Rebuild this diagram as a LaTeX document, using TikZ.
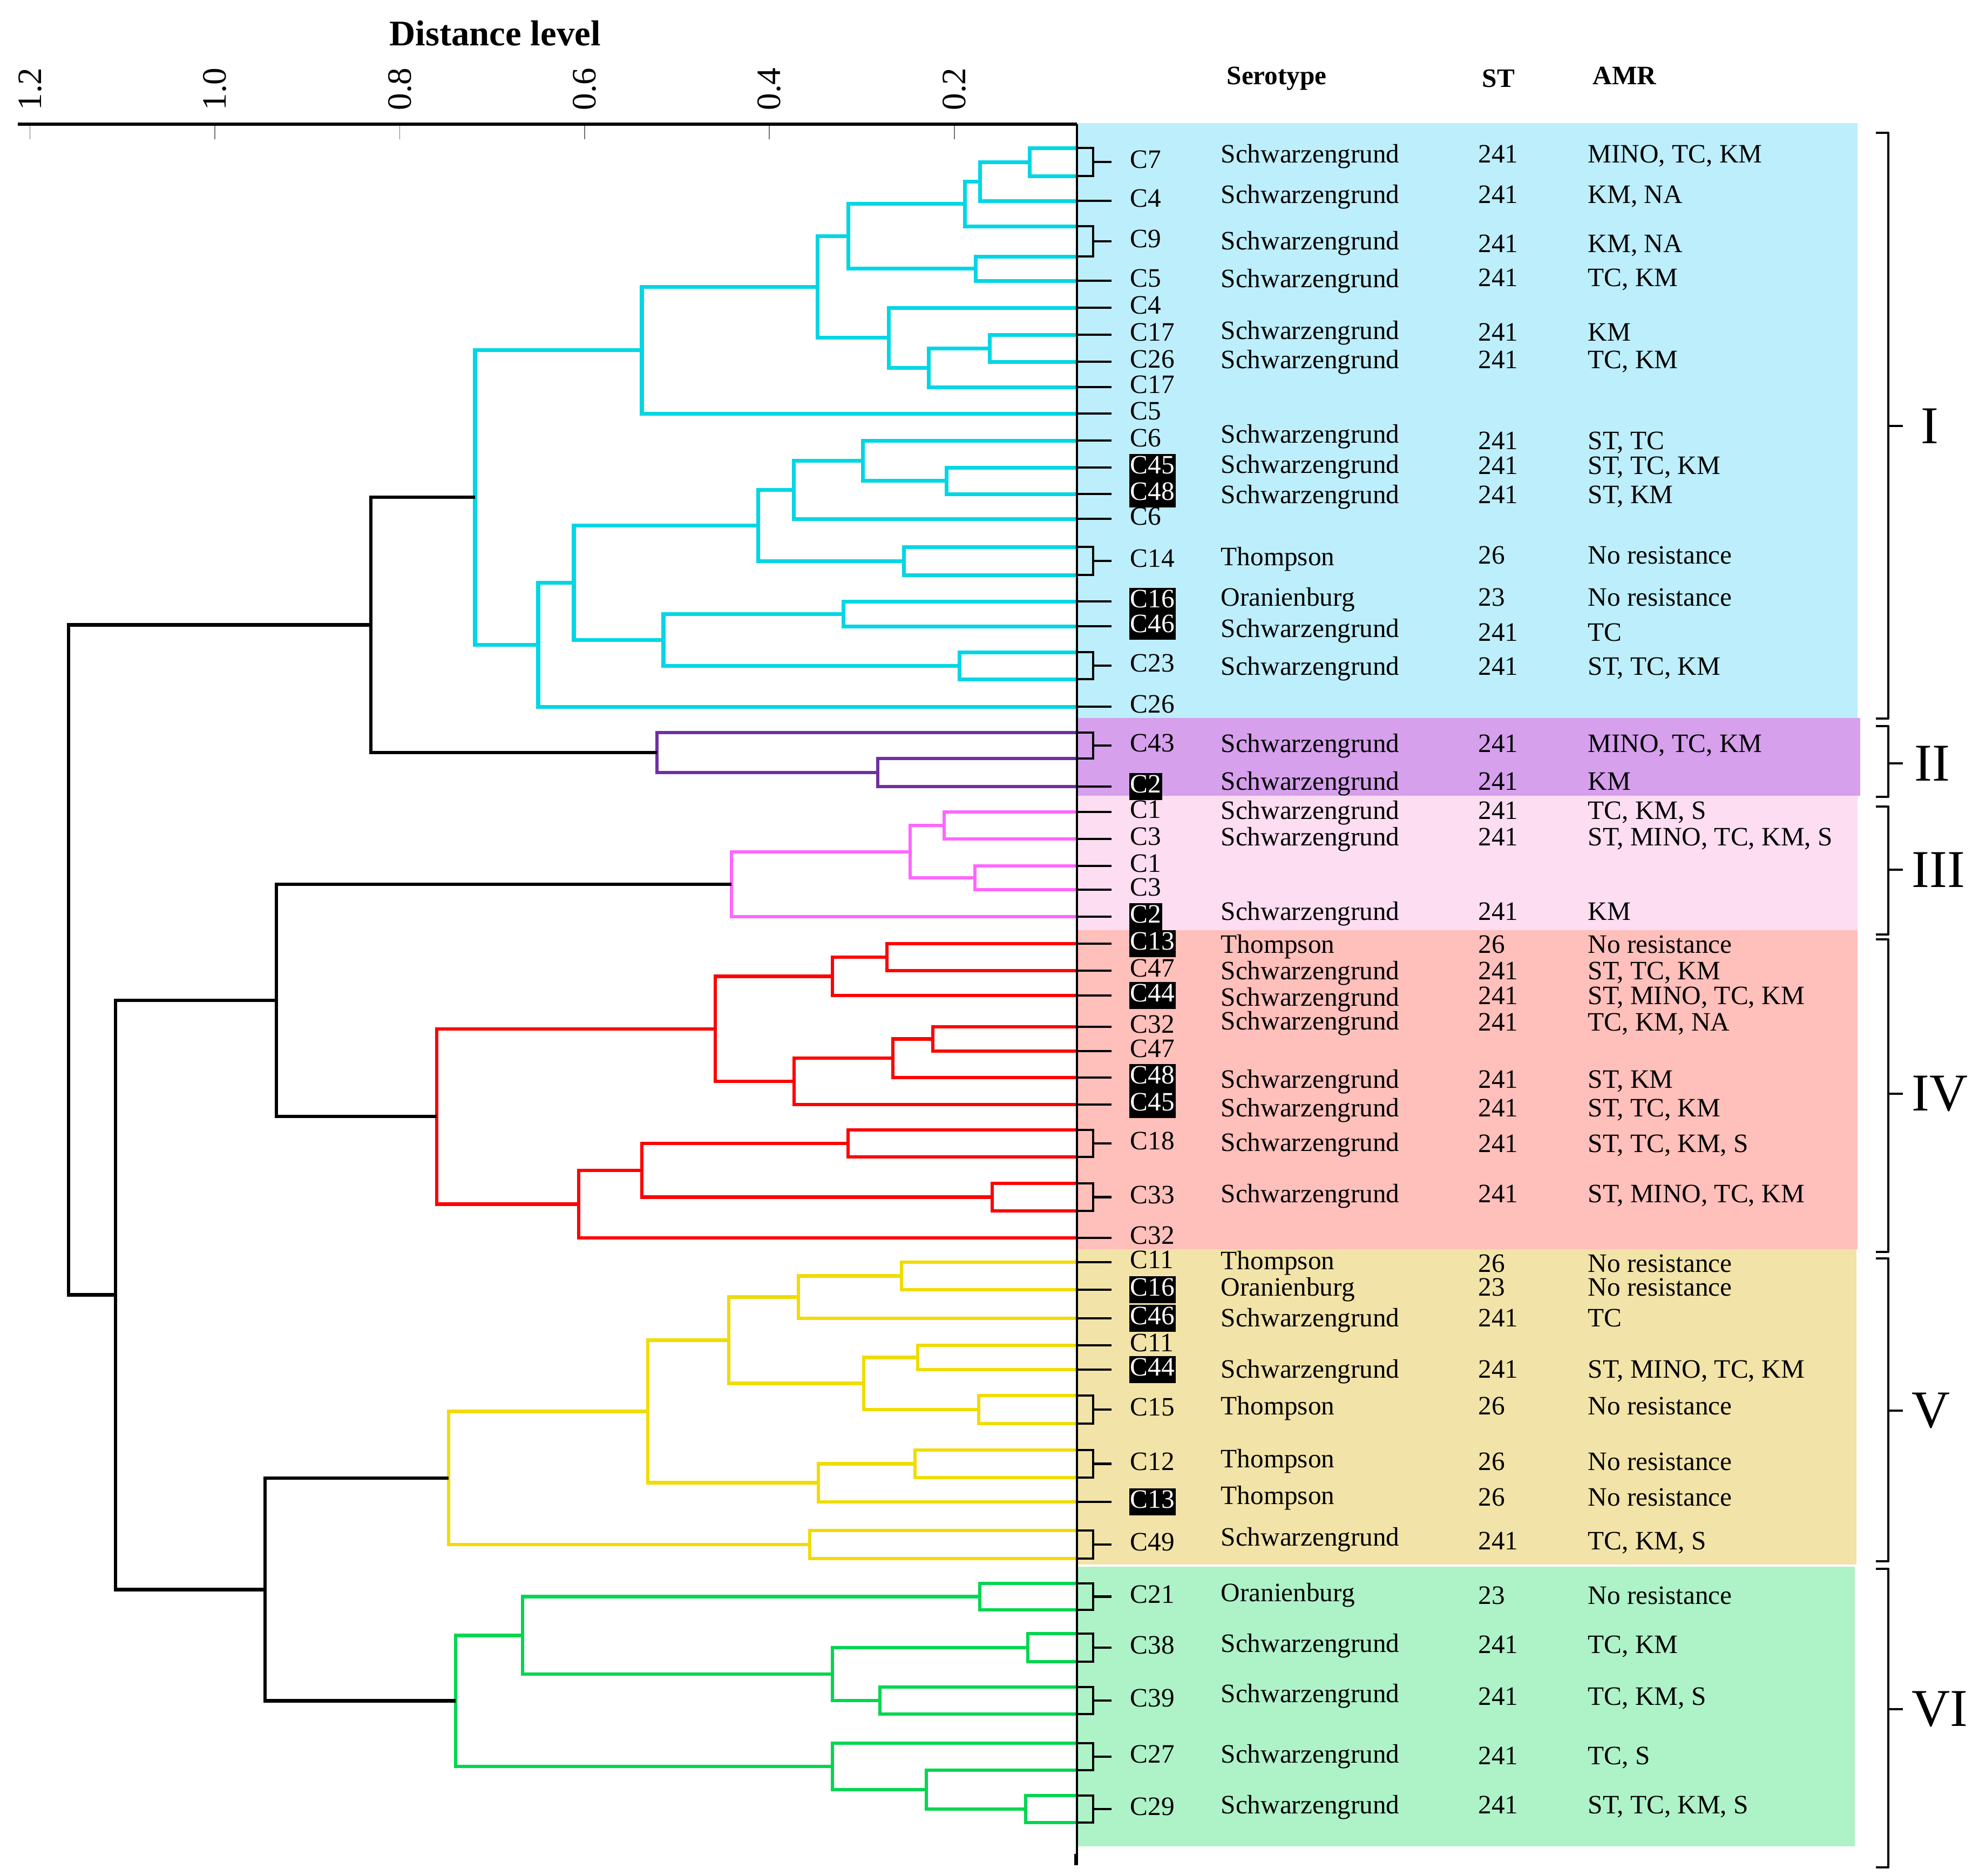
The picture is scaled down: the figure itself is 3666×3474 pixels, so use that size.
\documentclass[tikz,border=0pt]{standalone}
\usepackage{fontspec}
\setmainfont{Liberation Serif}
\definecolor{cyanL}{HTML}{00D6E4}
\definecolor{purpL}{HTML}{7030A0}
\definecolor{pinkL}{HTML}{FF66FF}
\definecolor{redL}{HTML}{FF0000}
\definecolor{yelL}{HTML}{F0DC00}
\definecolor{grnL}{HTML}{00D650}
\definecolor{bgCy}{HTML}{BDEEFB}
\definecolor{bgPu}{HTML}{D6A0EC}
\definecolor{bgPk}{HTML}{FDDDF1}
\definecolor{bgRd}{HTML}{FFBFBA}
\definecolor{bgYe}{HTML}{F2E3A8}
\definecolor{bgGr}{HTML}{AEF2C8}
\newcommand\fsbody{\fontsize{14pt}{16pt}\selectfont}
\tikzset{
  lab/.style={anchor=west, inner xsep=0.6pt, inner ysep=0.6pt, font=\fsbody, text height=9.8pt, text depth=3.1pt},
  labhl/.style={lab, fill=black, text=white},
  txt/.style={anchor=west, inner sep=0pt, font=\fsbody, text height=9.8pt, text depth=3.1pt},
  hdr/.style={anchor=west, inner sep=0pt, font=\bfseries\fsbody},
  tickline/.style={line width=1.2pt, black},
  dend/.style={line width=2pt, line join=miter},
  dcy/.style={dend, draw=cyanL},
  dpu/.style={dend, draw=purpL, line width=1.7pt},
  dpk/.style={dend, draw=pinkL, line width=1.7pt},
  drd/.style={dend, draw=redL, line width=1.8pt},
  dye/.style={dend, draw=yelL, line width=1.9pt},
  dgr/.style={dend, draw=grnL, line width=1.9pt},
  dbk/.style={dend, draw=black, line width=1.8pt},
  axtick/.style={line width=0.5pt, draw=black!55},
  ticklab/.style={rotate=90, inner sep=0pt, font=\fontsize{18pt}{20pt}\selectfont},
  brace/.style={line width=1.3pt, black, line join=round},
  roman/.style={anchor=west, inner sep=0pt, font=\fontsize{28pt}{30pt}\selectfont},
}
\newcommand\sleaf[4]{%
  \coordinate (#1) at (1995,#2);
  \coordinate (#1-t) at (2059,#2);
  \draw[tickline] (#1) -- (#1-t);
  \node[#4] (#1-l) at (2091,#2) {#3};}
\newcommand\bleaf[6]{%
  \coordinate (#1-1) at (1995,#2);
  \coordinate (#1-2) at (1995,#3);
  \coordinate (#1-m) at (2025,#4);
  \coordinate (#1-t) at (2059,#4);
  \draw[tickline] (#1-1) -| (#1-m) |- (#1-2);
  \draw[tickline] (#1-m) -- (#1-t);
  \node[#6] (#1-l) at (2091,#4) {#5};}
\newcommand\dendj[6]{%
  \coordinate (#2) at (#3,#4);
  \draw[#1] (#5) -| (#2) |- (#6);}
\newcommand\datarow[6]{%
  \node[txt] (s#1) at (2261,#2) {#4};
  \node[txt] (t#1) at (2738,#3) {#5};
  \node[txt] (r#1) at (2941,#3) {#6};}
\newcommand\grp[6]{%
  \coordinate (#1-a) at (3475,#2);
  \coordinate (#1-b) at (3475,#3);
  \coordinate (#1-m) at (3498,#4);
  \coordinate (#1-t) at (3525,#4);
  \draw[brace] (#1-a) -| (#1-m) |- (#1-b);
  \draw[brace] (#1-m) -- (#1-t);
  \node[roman] (#1-l) at (#6,#4) {#5};}
\begin{document}
\begin{tikzpicture}[x=0.01cm,y=-0.01cm]
\useasboundingbox (0,0) rectangle (3666,3474);
% backgrounds
\fill[bgCy] (1995,228) rectangle (3441,1330);
\fill[bgPu] (1995,1330) rectangle (3446,1474);
\fill[bgPk] (1995,1474) rectangle (3441,1723);
\fill[bgRd] (1995,1723) rectangle (3441,2314);
\fill[bgYe] (1995,2314) rectangle (3439,2898);
\fill[bgGr] (1995,2902) rectangle (3436,3420);
% ---- cluster I leaves
\bleaf{K7}{274}{326}{300}{C7}{lab}
\sleaf{K4}{372}{C4}{lab}
\bleaf{K9}{419}{475}{447}{C9}{lab}
\sleaf{K5}{520}{C5}{lab}
\sleaf{K4b}{570}{C4}{lab}
\sleaf{K17}{620}{C17}{lab}
\sleaf{K26}{670}{C26}{lab}
\sleaf{K17b}{717}{C17}{lab}
\sleaf{K5b}{766}{C5}{lab}
\sleaf{K6}{816}{C6}{lab}
\sleaf{K45}{866}{C45}{labhl}
\sleaf{K48}{915}{C48}{labhl}
\sleaf{K6b}{961}{C6}{lab}
\bleaf{K14}{1013}{1065}{1039}{C14}{lab}
\sleaf{K16}{1114}{C16}{labhl}
\sleaf{K46}{1160}{C46}{labhl}
\bleaf{K23}{1208}{1258}{1233}{C23}{lab}
\sleaf{K26b}{1309}{C26}{lab}
% ---- cluster II
\bleaf{P43}{1357}{1405}{1381}{C43}{lab}
\sleaf{P2}{1457}{C2}{labhl}
% ---- cluster III
\sleaf{Q1}{1504}{C1}{lab}
\sleaf{Q3}{1554}{C3}{lab}
\sleaf{Q1b}{1604}{C1}{lab}
\sleaf{Q3b}{1648}{C3}{lab}
\sleaf{Q2}{1698}{C2}{labhl}
% ---- cluster IV
\sleaf{R13}{1748}{C13}{labhl}
\sleaf{R47}{1798}{C47}{lab}
\sleaf{R44}{1844}{C44}{labhl}
\sleaf{R32}{1902}{C32}{lab}
\sleaf{R47b}{1947}{C47}{lab}
\sleaf{R48}{1996}{C48}{labhl}
\sleaf{R45}{2046}{C45}{labhl}
\bleaf{R18}{2093}{2143}{2118}{C18}{lab}
\bleaf{R33}{2192}{2243}{2217.5}{C33}{lab}
\sleaf{R32b}{2293}{C32}{lab}
% ---- cluster V
\sleaf{Y11}{2338}{C11}{lab}
\sleaf{Y16}{2389}{C16}{labhl}
\sleaf{Y46}{2442}{C46}{labhl}
\sleaf{Y11b}{2492}{C11}{lab}
\sleaf{Y44}{2537}{C44}{labhl}
\bleaf{Y15}{2585}{2637}{2611}{C15}{lab}
\bleaf{Y12}{2686}{2737}{2711.5}{C12}{lab}
\sleaf{Y13}{2782}{C13}{labhl}
\bleaf{Y49}{2835}{2887}{2861}{C49}{lab}
% ---- cluster VI
\bleaf{G21}{2933}{2982}{2957.5}{C21}{lab}
\bleaf{G38}{3026}{3078}{3052}{C38}{lab}
\bleaf{G39}{3125}{3175}{3150}{C39}{lab}
\bleaf{G27}{3229}{3279}{3254}{C27}{lab}
\bleaf{G29}{3326}{3376}{3351}{C29}{lab}
% ---- dendrogram cluster I
\dendj{dcy}{j1}{1907}{300}{K7-1}{K7-2}
\dendj{dcy}{j2}{1815}{336}{j1}{K4}
\dendj{dcy}{j3}{1787}{377.5}{j2}{K9-1}
\dendj{dcy}{j4}{1807}{497.5}{K9-2}{K5}
\dendj{dcy}{j5}{1571}{437.75}{j3}{j4}
\dendj{dcy}{j6}{1833}{645}{K17}{K26}
\dendj{dcy}{j7}{1720}{681}{j6}{K17b}
\dendj{dcy}{j8}{1646}{625.5}{K4b}{j7}
\dendj{dcy}{j9}{1514}{531.6}{j5}{j8}
\dendj{dcy}{j10}{1189}{648.8}{j9}{K5b}
\dendj{dcy}{j11}{1753}{890.5}{K45}{K48}
\dendj{dcy}{j12}{1598}{853}{K6}{j11}
\dendj{dcy}{j13}{1470}{907}{j12}{K6b}
\dendj{dcy}{j14}{1674}{1039}{K14-1}{K14-2}
\dendj{dcy}{j15}{1404}{973}{j13}{j14}
\dendj{dcy}{j16}{1562}{1137}{K16}{K46}
\dendj{dcy}{j17}{1777}{1233}{K23-1}{K23-2}
\dendj{dcy}{j18}{1229}{1185}{j16}{j17}
\dendj{dcy}{j19}{1063}{1079}{j15}{j18}
\dendj{dcy}{j20}{997}{1194}{j19}{K26b}
\dendj{dcy}{j21}{880}{921}{j10}{j20}
% cluster II
\dendj{dpu}{k1}{1626}{1431}{P43-2}{P2}
\dendj{dpu}{k2}{1217}{1394}{P43-1}{k1}
% cluster III
\dendj{dpk}{m1}{1749}{1529}{Q1}{Q3}
\dendj{dpk}{m2}{1806}{1626}{Q1b}{Q3b}
\dendj{dpk}{m3}{1686}{1577.5}{m1}{m2}
\dendj{dpk}{m4}{1355}{1637.75}{m3}{Q2}
% cluster IV
\dendj{drd}{n1}{1643}{1773}{R13}{R47}
\dendj{drd}{n2}{1542}{1808.5}{n1}{R44}
\dendj{drd}{n3}{1728}{1924.5}{R32}{R47b}
\dendj{drd}{n4}{1654}{1960.25}{n3}{R48}
\dendj{drd}{n5}{1471}{2003.1}{n4}{R45}
\dendj{drd}{n6}{1325}{1905.8}{n2}{n5}
\dendj{drd}{n7}{1571}{2118}{R18-1}{R18-2}
\dendj{drd}{n8}{1838}{2217.5}{R33-1}{R33-2}
\dendj{drd}{n9}{1189}{2167.75}{n7}{n8}
\dendj{drd}{n10}{1072}{2230.4}{n9}{R32b}
\dendj{drd}{n11}{809}{2068.1}{n6}{n10}
% cluster V
\dendj{dye}{o1}{1670}{2363.5}{Y11}{Y16}
\dendj{dye}{o2}{1479}{2402.75}{o1}{Y46}
\dendj{dye}{o3}{1700}{2514.5}{Y11b}{Y44}
\dendj{dye}{o4}{1813}{2611}{Y15-1}{Y15-2}
\dendj{dye}{o5}{1600}{2562.75}{o3}{o4}
\dendj{dye}{o6}{1350}{2482.75}{o2}{o5}
\dendj{dye}{o7}{1695}{2711.5}{Y12-1}{Y12-2}
\dendj{dye}{o8}{1516}{2746.75}{o7}{Y13}
\dendj{dye}{o9}{1200}{2614.75}{o6}{o8}
\dendj{dye}{o10}{1500}{2861}{Y49-1}{Y49-2}
\dendj{dye}{o11}{831}{2737.9}{o9}{o10}
% cluster VI
\dendj{dgr}{h1}{1815}{2957.5}{G21-1}{G21-2}
\dendj{dgr}{h2}{1904}{3052}{G38-1}{G38-2}
\dendj{dgr}{h3}{1630}{3150}{G39-1}{G39-2}
\dendj{dgr}{h4}{1542}{3101}{h2}{h3}
\dendj{dgr}{h5}{968}{3029.25}{h1}{h4}
\dendj{dgr}{h6}{1900}{3351}{G29-1}{G29-2}
\dendj{dgr}{h7}{1716}{3315}{G27-2}{h6}
\dendj{dgr}{h8}{1542}{3272}{G27-1}{h7}
\dendj{dgr}{h9}{844}{3150.6}{h5}{h8}
% black joins
\dendj{dbk}{b1}{687}{1157.5}{j21}{k2}
\dendj{dbk}{b2}{512}{1852.9}{m4}{n11}
\dendj{dbk}{b3}{491}{2944.3}{o11}{h9}
\dendj{dbk}{b4}{214}{2398.6}{b2}{b3}
\dendj{dbk}{b5}{127}{1778}{b1}{b4}
% axis
\coordinate (ax0) at (33,230);
\coordinate (ax1) at (1995,230);
\coordinate (vb) at (1995,3455);
\coordinate (vs) at (1993,3434);
\coordinate (vs2) at (1993,3455);
\draw[line width=1.7pt] (ax0) -- (ax1);
\draw[line width=0.9pt] (ax1) -- (vb);
\draw[line width=2pt] (vs) -- (vs2);
\foreach \v/\t [count=\i] in {1.2/1.2,1.0/1.0,0.8/0.8,0.6/0.6,0.4/0.4,0.2/0.2}{
  \pgfmathsetmacro\xx{2110-\v*1712}
  \coordinate (tka\i) at (\xx,233);
  \coordinate (tkb\i) at (\xx,258);
  \draw[axtick] (tka\i) -- (tkb\i);
  \node[ticklab] (tl\i) at (\xx,165) {\t};
}
\node[inner sep=0pt, font=\bfseries\fontsize{19pt}{21pt}\selectfont] (dl) at (917,62) {Distance level};
% headers
\node[hdr] (hS) at (2272,145) {Serotype};
\node[hdr] (hT) at (2745,145) {ST};
\node[hdr] (hA) at (2950,140) {AMR};
% data rows
\datarow{1}{290}{290}{Schwarzengrund}{241}{MINO, TC, KM}
\datarow{2}{365}{365}{Schwarzengrund}{241}{KM, NA}
\datarow{3}{451}{456}{Schwarzengrund}{241}{KM, NA}
\datarow{4}{521}{519}{Schwarzengrund}{241}{TC, KM}
\datarow{5}{617}{620}{Schwarzengrund}{241}{KM}
\datarow{6}{671}{671}{Schwarzengrund}{241}{TC, KM}
\datarow{7}{809}{821}{Schwarzengrund}{241}{ST, TC}
\datarow{8}{865}{867}{Schwarzengrund}{241}{ST, TC, KM}
\datarow{9}{921}{921}{Schwarzengrund}{241}{ST, KM}
\datarow{10}{1036}{1033}{Thompson}{26}{No resistance}
\datarow{11}{1111}{1111}{Oranienburg}{23}{No resistance}
\datarow{12}{1169}{1176}{Schwarzengrund}{241}{TC}
\datarow{13}{1239}{1239}{Schwarzengrund}{241}{ST, TC, KM}
\datarow{14}{1382}{1382}{Schwarzengrund}{241}{MINO, TC, KM}
\datarow{15}{1452}{1452}{Schwarzengrund}{241}{KM}
\datarow{16}{1506}{1506}{Schwarzengrund}{241}{TC, KM, S}
\datarow{17}{1555}{1555}{Schwarzengrund}{241}{ST, MINO, TC, KM, S}
\datarow{18}{1693}{1693}{Schwarzengrund}{241}{KM}
\datarow{19}{1754}{1754}{Thompson}{26}{No resistance}
\datarow{20}{1803}{1803}{Schwarzengrund}{241}{ST, TC, KM}
\datarow{21}{1852}{1849}{Schwarzengrund}{241}{ST, MINO, TC, KM}
\datarow{22}{1896}{1898}{Schwarzengrund}{241}{TC, KM, NA}
\datarow{23}{2004}{2004}{Schwarzengrund}{241}{ST, KM}
\datarow{24}{2057}{2057}{Schwarzengrund}{241}{ST, TC, KM}
\datarow{25}{2121}{2123}{Schwarzengrund}{241}{ST, TC, KM, S}
\datarow{26}{2216}{2216}{Schwarzengrund}{241}{ST, MINO, TC, KM}
\datarow{27}{2340}{2345}{Thompson}{26}{No resistance}
\datarow{28}{2389}{2389}{Oranienburg}{23}{No resistance}
\datarow{29}{2446}{2446}{Schwarzengrund}{241}{TC}
\datarow{30}{2541}{2541}{Schwarzengrund}{241}{ST, MINO, TC, KM}
\datarow{31}{2609}{2609}{Thompson}{26}{No resistance}
\datarow{32}{2707}{2712}{Thompson}{26}{No resistance}
\datarow{33}{2775}{2778}{Thompson}{26}{No resistance}
\datarow{34}{2852}{2859}{Schwarzengrund}{241}{TC, KM, S}
\datarow{35}{2955}{2960}{Oranienburg}{23}{No resistance}
\datarow{36}{3049}{3051}{Schwarzengrund}{241}{TC, KM}
\datarow{37}{3142}{3147}{Schwarzengrund}{241}{TC, KM, S}
\datarow{38}{3254}{3257}{Schwarzengrund}{241}{TC, S}
\datarow{39}{3348}{3348}{Schwarzengrund}{241}{ST, TC, KM, S}
% group braces
\grp{g1}{246}{1331}{789}{I}{3558}
\grp{g2}{1345}{1476}{1414}{II}{3546}
\grp{g3}{1494}{1731}{1611}{III}{3541}
\grp{g4}{1740}{2319}{2026}{IV}{3541}
\grp{g5}{2331}{2892}{2613}{V}{3541}
\grp{g6}{2906}{3459}{3166}{VI}{3541}
\end{tikzpicture}
\end{document}
